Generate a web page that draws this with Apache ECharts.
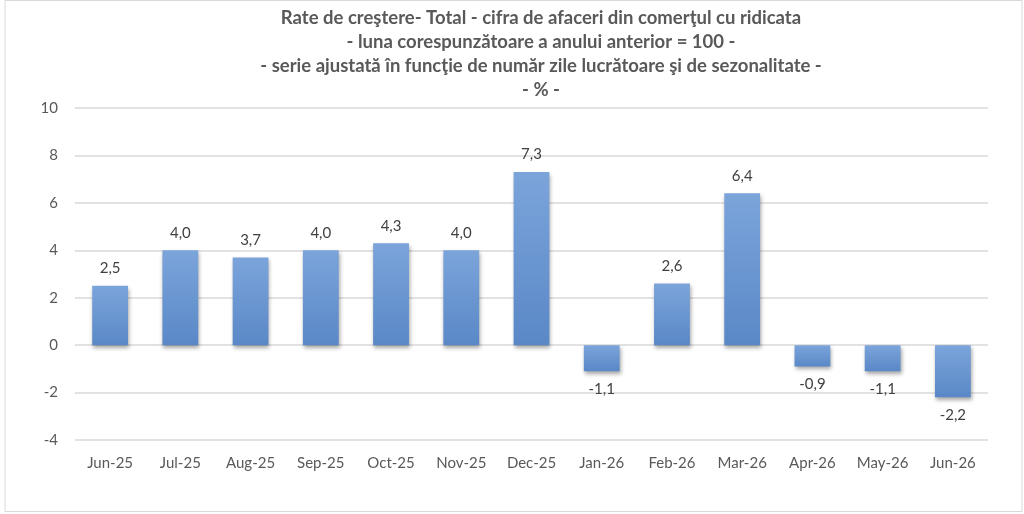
<!DOCTYPE html>
<html>
<head>
<meta charset="utf-8">
<script src="https://cdn.jsdelivr.net/npm/echarts@6/dist/echarts.min.js"></script>
<style>
  html, body { margin: 0; padding: 0; background: #fff; }
  #chart { width: 1024px; height: 514px; }
</style>
</head>
<body>
<div id="chart"></div>
<script>
// categorii si valori
var months = ["Jun-25", "Jul-25", "Aug-25", "Sep-25", "Oct-25", "Nov-25", "Dec-25", "Jan-26", "Feb-26", "Mar-26", "Apr-26", "May-26", "Jun-26"];
var values = [2.5, 4.0, 3.7, 4.0, 4.3, 4.0, 7.3, -1.1, 2.6, 6.4, -0.9, -1.1, -2.2];
var titleLines = [
  "Rate de creştere- Total - cifra de afaceri din comerţul cu ridicata",
  "- luna corespunzătoare a anului anterior = 100 -",
  "- serie ajustată în funcţie de număr zile lucrătoare şi de sezonalitate -",
  "- % -"
];

var myChart = echarts.init(document.getElementById("chart"));
var font = "Lato, 'Liberation Sans', sans-serif";

var option = {
  animation: false,
  graphic: [{
    type: "rect",
    shape: { x: 5, y: 0.5, width: 1017, height: 511 },
    style: { fill: "none", stroke: "#d9d9d9", lineWidth: 1 }
  }],
  title: {
    text: titleLines.join("\n"),
    left: 536,
    top: 1,
    textAlign: "center",
    textStyle: {
      color: "#595959",
      fontFamily: font,
      fontWeight: "bold",
      fontSize: 18.5,
      lineHeight: 24
    }
  },
  grid: {
    left: 75,
    right: 36,
    top: 108,
    bottom: 74,
    containLabel: false
  },
  xAxis: {
    type: "category",
    data: months,
    axisLine: { show: false },
    axisTick: { show: false },
    axisLabel: {
      interval: 0,
      color: "#595959",
      fontFamily: font,
      fontSize: 15,
      margin: 16
    }
  },
  yAxis: {
    type: "value",
    min: -4,
    max: 10,
    interval: 2,
    axisLine: { show: false },
    axisTick: { show: false },
    axisLabel: {
      color: "#595959",
      fontFamily: font,
      fontSize: 15,
      margin: 17
    },
    splitLine: {
      lineStyle: { color: "#d9d9d9", width: 1.5 }
    }
  },
  series: [{
    type: "bar",
    data: values.map(function (v) {
      return {
        value: v,
        label: { position: v < 0 ? "bottom" : "top" }
      };
    }),
    barWidth: "51%",
    itemStyle: {
      color: new echarts.graphic.LinearGradient(0, 0, 0, 1, [
        { offset: 0, color: "#7ba4da" },
        { offset: 1, color: "#5a88c7" }
      ]),
      shadowColor: "rgba(0,0,0,0.35)",
      shadowBlur: 4,
      shadowOffsetX: 1,
      shadowOffsetY: 3
    },
    label: {
      show: true,
      distance: 10,
      color: "#404040",
      fontFamily: font,
      fontSize: 15,
      formatter: function (p) {
        return p.value.toFixed(1).replace(".", ",");
      }
    }
  }]
};

myChart.setOption(option);
</script>
</body>
</html>
